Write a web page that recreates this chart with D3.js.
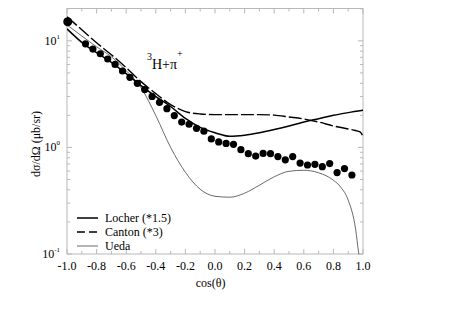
<!DOCTYPE html>
<html>
<head>
<meta charset="utf-8">
<script src="https://cdn.jsdelivr.net/npm/d3@7"></script>
<style>
  body { margin: 0; background: #fff; }
</style>
</head>
<body>
<div id="chart"></div>
<script>
// measured points (cos theta, dsigma/dOmega)
var dataX = [-0.995, -0.875, -0.825, -0.775, -0.725, -0.675, -0.625, -0.575, -0.525, -0.475, -0.425,
    -0.375, -0.325, -0.275, -0.225, -0.175, -0.125, -0.075, -0.025, 0.025, 0.075, 0.125, 0.175,
    0.225, 0.275, 0.325, 0.375, 0.425, 0.475, 0.525, 0.575, 0.625, 0.675, 0.725, 0.775, 0.825,
    0.875, 0.925];
var dataY = [15.1, 9.37, 8.37, 7.56, 6.75, 6.01, 5.21, 4.54, 3.99, 3.49, 3.01,
    2.65, 2.31, 1.99, 1.73, 1.65, 1.51, 1.42, 1.20, 1.125, 1.09, 1.07, 0.953,
    0.873, 0.829, 0.879, 0.873, 0.820, 0.764, 0.820, 0.713, 0.684, 0.694, 0.660, 0.705, 0.581,
    0.633, 0.551];

// model curves
var curveX = [-1.0, -0.9, -0.8, -0.7, -0.6, -0.5, -0.4, -0.3, -0.2, -0.1, 0.0,
    0.1, 0.2, 0.3, 0.4, 0.5, 0.6, 0.7, 0.8, 0.9, 1.0];
var locher = [12.95, 9.68, 7.73, 6.29, 4.92, 3.80, 3.00, 2.42, 1.87, 1.54, 1.37,
    1.27, 1.30, 1.37, 1.47, 1.59, 1.73, 1.86, 2.00, 2.12, 2.23];
var cantonX = [-1.0, -0.9, -0.8, -0.7, -0.6, -0.5, -0.4, -0.3, -0.2, -0.1, 0.0,
    0.1, 0.2, 0.3, 0.4, 0.5, 0.6, 0.7, 0.8, 0.9, 0.95, 0.98, 1.0];
var canton = [16.8, 12.7, 9.58, 7.40, 5.60, 4.14, 3.20, 2.52, 2.17, 2.06, 2.03,
    2.03, 2.03, 2.03, 2.01, 1.93, 1.85, 1.73, 1.59, 1.49, 1.44, 1.40, 1.27];
var uedaX = [-1.0, -0.9, -0.8, -0.7, -0.6, -0.5, -0.4, -0.3, -0.2, -0.1, 0.0,
    0.1, 0.2, 0.3, 0.4, 0.5, 0.6, 0.7, 0.8, 0.85, 0.9, 0.95, 0.97, 0.98];
var ueda = [14.1, 11.1, 8.79, 7.08, 5.24, 3.64, 1.99, 1.00, 0.584, 0.405, 0.348,
    0.341, 0.372, 0.442, 0.530, 0.597, 0.610, 0.578, 0.492, 0.423, 0.320, 0.171, 0.104, 0.085];

var xTicks = [-1.0, -0.8, -0.6, -0.4, -0.2, 0.0, 0.2, 0.4, 0.6, 0.8, 1.0];
var yMajor = [0.1, 1, 10];
var yExp = ["-1", "0", "1"];

var legendNames = ["Locher  (*1.5)", "Canton (*3)", "Ueda"];

var width = 473, height = 327;
var margin = {top: 8.5, right: 110, bottom: 73, left: 67};
var w = width - margin.left - margin.right,
    h = height - margin.top - margin.bottom;
var FONT = "'Liberation Serif'";
var axisCol = "#b8b8b8";

var svg = d3.select("#chart").append("svg")
    .attr("width", width)
    .attr("height", height);

var g = svg.append("g")
    .attr("transform", "translate(" + margin.left + "," + margin.top + ")");

var x = d3.scaleLinear().domain([-1, 1]).range([0, w]);
var y = d3.scaleLog().domain([0.1, 20.1]).range([h, 0]);

g.append("clipPath").attr("id", "clip")
  .append("rect").attr("width", w).attr("height", h);

// frame
g.append("rect")
    .attr("width", w).attr("height", h)
    .attr("fill", "none").attr("stroke", axisCol);

// x ticks (minor every 0.1)
var xMinor = d3.range(-9, 10, 2).map(function(d) { return d / 10; });
function xAxisTicks(sel, y0, dir) {
    sel.selectAll(null).data(xTicks).enter().append("line")
        .attr("x1", function(d) { return x(d); }).attr("x2", function(d) { return x(d); })
        .attr("y1", y0).attr("y2", y0 + dir * 5)
        .attr("stroke", axisCol);
    sel.selectAll(null).data(xMinor).enter().append("line")
        .attr("x1", function(d) { return x(d); }).attr("x2", function(d) { return x(d); })
        .attr("y1", y0).attr("y2", y0 + dir * 3)
        .attr("stroke", axisCol);
}
var axes = g.append("g").attr("class", "axis");
xAxisTicks(axes, h, -1);
xAxisTicks(axes, 0, 1);

// y ticks (log minor)
var yMinor = [];
[0.1, 1, 10].forEach(function(p) {
    d3.range(2, 10).forEach(function(k) { if (p * k <= 20.1) yMinor.push(p * k); });
});
function yAxisTicks(sel, x0, dir) {
    sel.selectAll(null).data(yMajor).enter().append("line")
        .attr("y1", function(d) { return y(d); }).attr("y2", function(d) { return y(d); })
        .attr("x1", x0).attr("x2", x0 + dir * 5)
        .attr("stroke", axisCol);
    sel.selectAll(null).data(yMinor).enter().append("line")
        .attr("y1", function(d) { return y(d); }).attr("y2", function(d) { return y(d); })
        .attr("x1", x0).attr("x2", x0 + dir * 3)
        .attr("stroke", axisCol);
}
yAxisTicks(axes, 0, 1);
yAxisTicks(axes, w, -1);

// tick labels
g.selectAll(".xlab").data(xTicks).enter().append("text")
    .attr("class", "xlab")
    .attr("x", function(d) { return x(d); })
    .attr("y", h + 16)
    .attr("text-anchor", "middle")
    .style("font-family", FONT)
    .style("font-size", "12px")
    .text(function(d) { return d3.format(".1f")(d).replace("−", "-"); });

var ylab = g.selectAll(".ylab").data(yMajor).enter().append("text")
    .attr("class", "ylab")
    .attr("x", -7)
    .attr("y", function(d) { return y(d) + 4; })
    .attr("text-anchor", "end")
    .style("font-family", FONT)
    .style("font-size", "12px");
ylab.append("tspan").text("10");
ylab.append("tspan")
    .attr("dy", -6)
    .style("font-size", "7px")
    .text(function(d, i) { return yExp[i]; });

// axis titles
svg.append("text")
    .attr("x", margin.left + x(-0.03))
    .attr("y", 287)
    .attr("text-anchor", "middle")
    .style("font-family", FONT)
    .style("font-size", "12px")
    .text("cos(θ)");

svg.append("text")
    .attr("transform", "translate(40,144) rotate(-90)")
    .attr("text-anchor", "middle")
    .style("font-family", FONT)
    .style("font-size", "12px")
    .text("dσ/dΩ (μb/sr)");

// reaction label
var rl = g.append("text")
    .attr("x", x(-0.46))
    .attr("y", 60.5)
    .style("font-family", FONT)
    .style("font-size", "14px");
rl.append("tspan").attr("dy", -9).style("font-size", "10px").text("3");
rl.append("tspan").attr("dy", 9).text("H+π");
rl.append("tspan").attr("dy", -12).style("font-size", "10px").text("+");

// curves
var line = d3.line()
    .x(function(d) { return x(d[0]); })
    .y(function(d) { return y(d[1]); })
    .curve(d3.curveMonotoneX);

var plot = g.append("g").attr("clip-path", "url(#clip)");

plot.append("path")
    .datum(d3.zip(uedaX, ueda))
    .attr("d", line)
    .attr("fill", "none").attr("stroke", "#444").attr("stroke-width", 0.8);

plot.append("path")
    .datum(d3.zip(cantonX, canton))
    .attr("d", line)
    .attr("fill", "none").attr("stroke", "#000").attr("stroke-width", 1.4)
    .attr("stroke-dasharray", "13,3");

plot.append("path")
    .datum(d3.zip(curveX, locher))
    .attr("d", line)
    .attr("fill", "none").attr("stroke", "#000").attr("stroke-width", 1.5);

// data points
g.selectAll(".dot").data(d3.zip(dataX, dataY)).enter().append("circle")
    .attr("class", "dot")
    .attr("cx", function(d) { return x(d[0]); })
    .attr("cy", function(d) { return y(d[1]); })
    .attr("r", function(d, i) { return i == 0 ? 4.5 : 3.6; })
    .attr("fill", "#000");

// legend
var legStyles = [
    {dash: null, sw: 1.5, col: "#000"},
    {dash: "8,4", sw: 1.5, col: "#000"},
    {dash: null, sw: 0.8, col: "#444"}
];
var leg = g.selectAll(".leg").data(legendNames).enter().append("g")
    .attr("class", "leg")
    .attr("transform", function(d, i) { return "translate(10," + (209.5 + i * 14) + ")"; });
leg.append("line")
    .attr("x1", 0).attr("x2", 21)
    .attr("stroke", function(d, i) { return legStyles[i].col; })
    .attr("stroke-width", function(d, i) { return legStyles[i].sw; })
    .attr("stroke-dasharray", function(d, i) { return legStyles[i].dash; });
leg.append("text")
    .attr("x", 28)
    .attr("y", 4)
    .style("font-family", FONT)
    .style("font-size", "12px")
    .text(function(d) { return d; });
</script>
</body>
</html>
